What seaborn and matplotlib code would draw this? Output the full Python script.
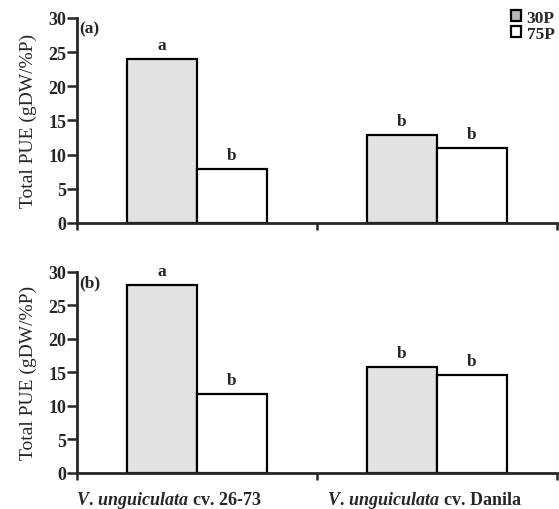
import pandas as pd
import matplotlib.pyplot as plt
import seaborn as sns

# values
cultivars = ["26-73", "Danila"]
treatments = ["30P", "75P"]
pue_a = {"30P": [24.0, 12.8], "75P": [7.9, 11.0]}
pue_b = {"30P": [28.0, 15.8], "75P": [11.8, 14.6]}
letters_a = {"30P": ["a", "b"], "75P": ["b", "b"]}
letters_b = {"30P": ["a", "b"], "75P": ["b", "b"]}
yticks = [0, 5, 10, 15, 20, 25, 30]

sns.set_style("ticks")
plt.rcParams["font.family"] = ["Liberation Serif", "DejaVu Serif"]
plt.rcParams["mathtext.fontset"] = "custom"
plt.rcParams["mathtext.it"] = "Liberation Serif:italic:bold"
plt.rcParams["mathtext.rm"] = "Liberation Serif:bold"


# Build long table for seaborn
def to_frame(values, letters):
    rows = []
    for t in treatments:
        for c, v, l in zip(cultivars, values[t], letters[t]):
            rows.append({"Cultivar": c, "Treatment": t, "PUE": v, "Letter": l})
    return pd.DataFrame(rows)


def draw_panel(ax, data, tag):
    sns.barplot(data=data, x="Cultivar", y="PUE", hue="Treatment",
                order=cultivars, hue_order=treatments,
                palette={"30P": "#e2e2e2", "75P": "white"},
                edgecolor="black", linewidth=1.6, width=0.585,
                legend=False, ax=ax)
    # significance letters over each bar
    for patch, letter in zip(ax.patches, data["Letter"]):
        x = patch.get_x() + patch.get_width() / 2
        ax.text(x, patch.get_height() + 0.9, letter, ha="center", va="bottom",
                fontsize=12.5, fontweight="bold")
    ax.set_xlim(-0.5, 1.5)
    ax.set_ylim(0, 30)
    ax.set_yticks(yticks)
    ax.set_xticks([-0.5, 0.5, 1.5])
    ax.set_xticklabels([])
    ax.set_xlabel("")
    ax.set_ylabel("Total PUE (gDW/%P)", fontsize=14, labelpad=8)
    ax.tick_params(axis="y", labelsize=13, width=1.8, length=7, pad=1)
    ax.tick_params(axis="x", width=1.8, length=5)
    for lab in ax.get_yticklabels():
        lab.set_fontweight("bold")
    for s in ["left", "bottom"]:
        ax.spines[s].set_linewidth(2)
    sns.despine(ax=ax)
    ax.text(-0.49, 29.6, tag, ha="left", va="top", fontsize=12.5, fontweight="bold")


fig = plt.figure(figsize=(5.59, 5.10), dpi=100)
ax1 = fig.add_axes([0.138, 0.561, 0.858, 0.402])
ax2 = fig.add_axes([0.138, 0.071, 0.858, 0.394])

draw_panel(ax1, to_frame(pue_a, letters_a), "(a)")
draw_panel(ax2, to_frame(pue_b, letters_b), "(b)")

ax2.text(-0.12, -2.4, r"$\mathit{V.\,unguiculata}$ cv. 26-73", ha="center", va="top",
         fontsize=13, fontweight="bold")
ax2.text(0.95, -2.4, r"$\mathit{V.\,unguiculata}$ cv. Danila", ha="center", va="top",
         fontsize=13, fontweight="bold")

# legend
handles = [plt.Rectangle((0, 0), 1, 1, facecolor=c, edgecolor="black", linewidth=1.6)
           for c in ["#b8b8b8", "white"]]
fig.legend(handles, treatments, loc="upper right", bbox_to_anchor=(1.02, 1.01),
           frameon=False, handlelength=0.6, handleheight=0.6, handletextpad=0.3,
           labelspacing=0.0, prop={"family": "Liberation Serif", "weight": "bold", "size": 12.5})

fig.savefig("out.png", dpi=100)
